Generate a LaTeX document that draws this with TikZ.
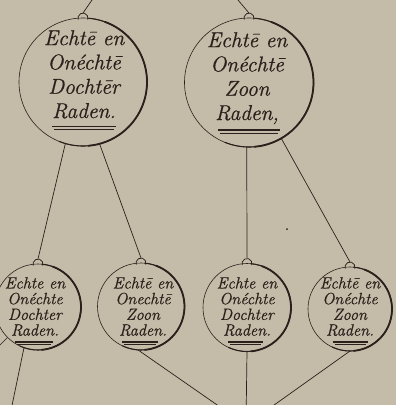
\documentclass[tikz,border=0pt]{standalone}
\usepackage{fontspec}
\newfontfamily\engr[FakeBold=0.8]{Latin Modern Roman}
\definecolor{bg}{RGB}{196,188,168}
\definecolor{ink}{RGB}{42,33,28}
\begin{document}
\begin{tikzpicture}[x=1pt,y=1pt,
  medal/.style={circle, inner sep=0pt, outer sep=0pt, draw=ink, line width=0.6pt},
  rim/.style={draw=ink, line width=1.8pt, line cap=round},
  rimthin/.style={draw=ink, line width=1.1pt, line cap=round},
  loopring/.style={draw=ink, line width=0.7pt},
  cord/.style={draw=ink, line width=0.7pt},
  bigtext/.style={font=\engr\fontsize{21.5}{24.3}\selectfont\itshape, text=ink, align=center, inner sep=0pt, anchor=north},
  smalltext/.style={font=\engr\fontsize{16.2}{15.7}\selectfont\itshape, text=ink, align=center, inner sep=0pt, anchor=north},
  uline/.style={draw=ink, line width=1.1pt},
  ulinethin/.style={draw=ink, line width=0.4pt}
]
\fill[bg] (0,0) rectangle (396,-405);
\useasboundingbox (0,0) rectangle (396,-405);
\clip (0,0) rectangle (396,-405);

% medals
\node[medal, minimum size=128pt] (A) at (83,-82) {};
\node[medal, minimum size=129pt] (C) at (249,-82.5) {};
\node[medal, minimum size=86pt] (B1) at (38,-307) {};
\node[medal, minimum size=87pt] (B2) at (141,-306.5) {};
\node[medal, minimum size=88pt] (B3) at (247,-307.5) {};
\node[medal, minimum size=84pt] (B4) at (350,-309) {};

% heavy right rims
\draw[rimthin] (A.85) arc[start angle=85, end angle=-112, radius=64pt];
\draw[rim] (A.70) arc[start angle=70, end angle=-85, radius=64pt];
\draw[rimthin] (C.85) arc[start angle=85, end angle=-112, radius=64.5pt];
\draw[rim] (C.70) arc[start angle=70, end angle=-85, radius=64.5pt];
\foreach \n/\r in {B1/43,B2/43.5,B3/44,B4/42}{
  \draw[rimthin] (\n.85) arc[start angle=85, end angle=-115, radius=\r pt];
  \draw[rim] (\n.70) arc[start angle=70, end angle=-85, radius=\r pt];
}

% loops
\foreach \n in {A,C,B1,B2,B3,B4}{
  \draw[loopring] (\n.north) ++(-20:5pt) arc[start angle=-20, end angle=200, radius=5pt];
  \coordinate (\n top) at ([yshift=5pt]\n.north);
}

% texts
\node[bigtext] (Atx) at (84,-30) {Echtē en\\Onéchtē\\Dochtēr\\Raden.};
\node[bigtext] (Ctx) at (247,-32) {Echtē en\\Onéchtē\\Zoon\\Raden,};
\node[smalltext] (B1tx) at (35,-277) {Echte en\\Onéchte\\Dochter\\Raden.};
\node[smalltext] (B2tx) at (143,-277) {Echtē en\\Onechtē\\Zoon\\Raden.};
\node[smalltext] (B3tx) at (247,-277) {Echte en\\Onéchte\\Dochter\\Raden.};
\node[smalltext] (B4tx) at (350,-277) {Echtē en\\Onéchte\\Zoon\\Raden.};

% underlines
\draw[uline] (52,-126.5) -- (116,-126.5);
\draw[ulinethin] (54,-129.5) -- (114,-129.5);
\draw[uline] (218,-130) -- (280,-130);
\draw[ulinethin] (220,-133) -- (278,-133);
\foreach \a/\b in {15/53,122/158,228/263,333/368}{
  \draw[uline] (\a,-342) -- (\b,-342);
  \draw[ulinethin] (\a+2,-344.5) -- (\b-2,-344.5);
}

% connectors
\coordinate (Aup) at (92,0);
\coordinate (Cup) at (238,0);
\draw[cord] (Aup) -- (Atop);
\draw[cord] (Cup) -- (Ctop);
\draw[cord] (A.-106) -- (B1top);
\draw[cord] (A.-75) -- (B2top);
\draw[cord] (C.-92) -- (B3top);
\draw[cord] (C.-60) -- (B4top);

\coordinate (M) at (246,-425);
\coordinate (L1) at (9,-420);
\coordinate (L2) at (-10,-355);
\draw[cord] (B2.-94) -- (M);
\draw[cord] (B3.south) -- (M);
\draw[cord] (B4.south) -- (M);
\draw[cord] (B1.-109) -- (L1);
\draw[cord] (B1.-135) -- (L2);

\fill[ink] (287,-229) circle (1pt);
\end{tikzpicture}
\end{document}
